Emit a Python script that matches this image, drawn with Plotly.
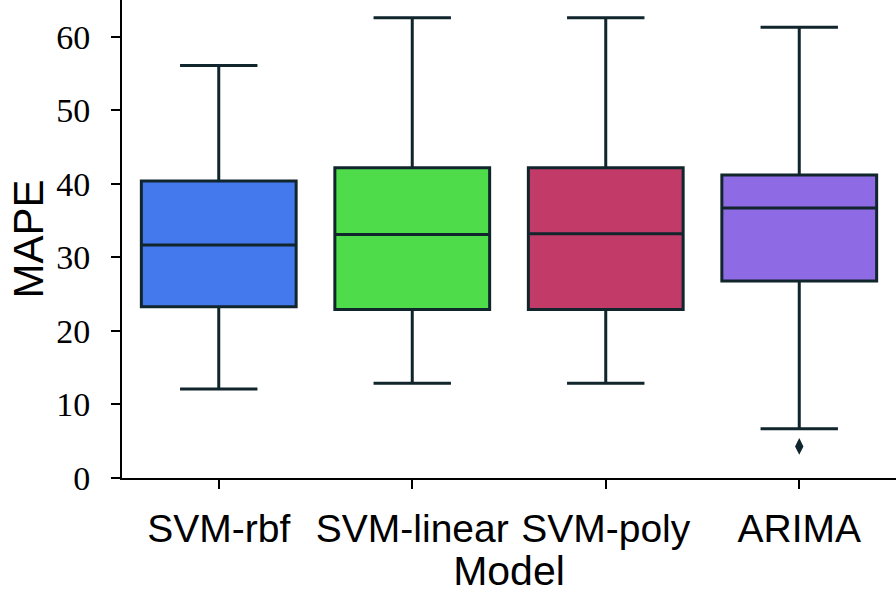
import plotly.graph_objects as go

# Box statistics (MAPE)
models = ["SVM-rbf", "SVM-linear", "SVM-poly", "ARIMA"]
q1 = [23.3, 22.9, 22.9, 26.8]
median = [31.7, 33.1, 33.2, 36.7]
q3 = [40.4, 42.2, 42.2, 41.2]
lower = [12.1, 12.9, 12.9, 6.7]
upper = [56.1, 62.6, 62.6, 61.3]
colors = ["#4479ED", "#4EDC4A", "#C23B68", "#8F6AE5"]

# outlier points
outlier_model = ["ARIMA"]
outlier_val = [4.3]

line_col = "#10252C"

fig = go.Figure()
for i, m in enumerate(models):
    fig.add_trace(go.Box(
        x=[m], q1=[q1[i]], median=[median[i]], q3=[q3[i]],
        lowerfence=[lower[i]], upperfence=[upper[i]],
        fillcolor=colors[i], line=dict(color=line_col, width=3),
        width=0.8, whiskerwidth=0.5, boxpoints=False,
        showlegend=False, hoverinfo="skip",
    ))

fig.add_trace(go.Scatter(
    x=outlier_model, y=outlier_val, mode="markers",
    marker=dict(symbol="diamond-tall", size=12, color=line_col),
    showlegend=False,
))

fig.update_layout(
    width=896, height=594,
    margin=dict(l=122, r=0, t=0, b=116, autoexpand=False),
    plot_bgcolor="white", paper_bgcolor="white",
    font=dict(family="Liberation Sans, Arial, sans-serif", color="black"),
)
fig.update_xaxes(
    categoryorder="array", categoryarray=models, range=[-0.5, 3.5],
    showline=True, linecolor="black", linewidth=2,
    ticks="outside", ticklen=9, tickwidth=1.5, tickcolor="black",
    ticklabelstandoff=6,
    tickfont=dict(size=39), showgrid=False, automargin=False,
    title=dict(text="Model", font=dict(size=41), standoff=10),
)
fig.update_yaxes(
    range=[0, 65], tickvals=[0, 10, 20, 30, 40, 50, 60],
    showline=True, linecolor="black", linewidth=2,
    ticks="outside", ticklen=9, tickwidth=1.5, tickcolor="black",
    ticklabelstandoff=14,
    tickfont=dict(size=34, family="Liberation Serif, DejaVu Serif, serif"),
    showgrid=False, zeroline=False, automargin=False,
)

# y title placed by hand so it hugs the left edge like the original
fig.add_annotation(
    text="MAPE", xref="paper", yref="paper", x=0, y=0.5,
    xanchor="right", yanchor="middle", xshift=-70, textangle=-90,
    showarrow=False, font=dict(size=42), borderpad=0,
)

# drop the page's default body margin so the figure sits at the corner
fig.write_html("out.html", config={"displayModeBar": False},
               post_script="document.body.style.margin='0px';")
